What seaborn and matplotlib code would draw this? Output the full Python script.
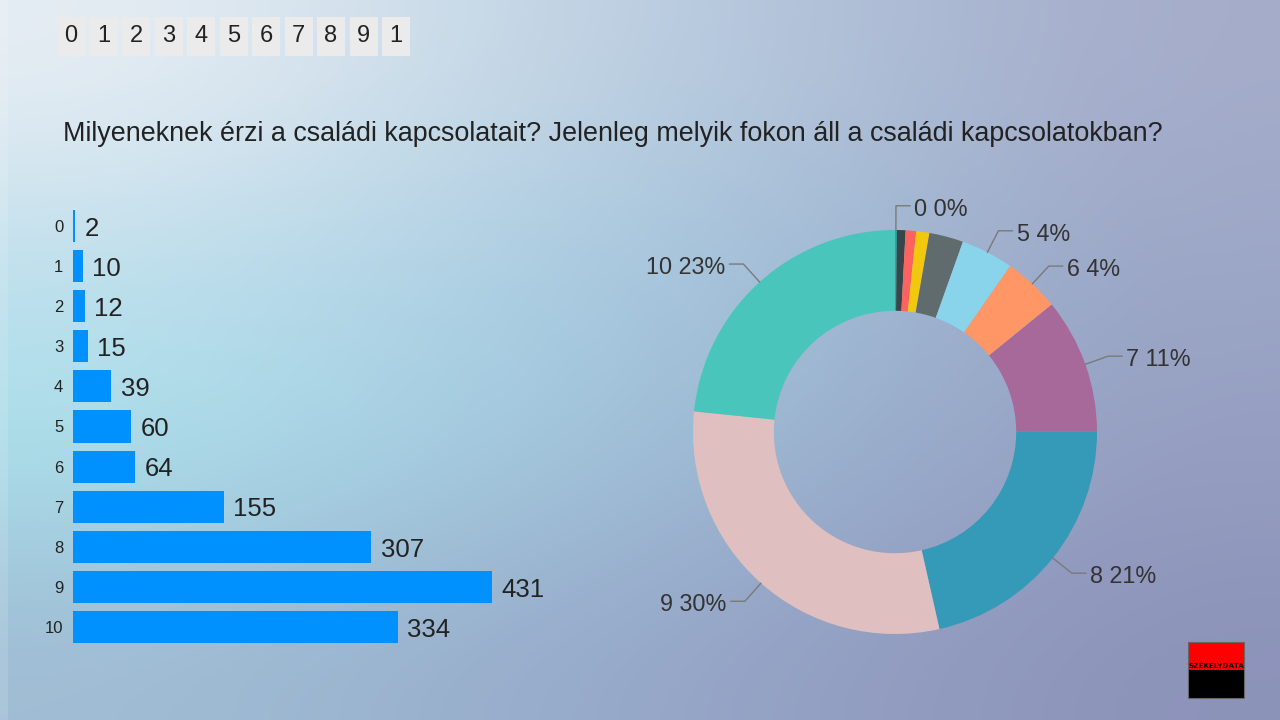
import numpy as np
import matplotlib
matplotlib.use("Agg")
import matplotlib.pyplot as plt
from matplotlib.patches import Rectangle
import seaborn as sns

# data
categories = ["0", "1", "2", "3", "4", "5", "6", "7", "8", "9", "10"]
counts = [2, 10, 12, 15, 39, 60, 64, 155, 307, 431, 334]
scale_labels = ["0", "1", "2", "3", "4", "5", "6", "7", "8", "9", "1"]
slice_colors = ["#01B8AA", "#374649", "#FD625E", "#F2C80F", "#5F6B6D", "#8AD4EB",
                "#FE9666", "#A66999", "#3599B8", "#DFBFBF", "#4AC5BB"]
labeled_slices = ["0", "5", "6", "7", "8", "9", "10"]
title = "Milyeneknek érzi a családi kapcsolatait? Jelenleg melyik fokon áll a családi kapcsolatokban?"

sns.set_theme(style="white")
plt.rcParams["font.family"] = ["Liberation Sans", "DejaVu Sans"]

W, H = 1280, 720
fig = plt.figure(figsize=(W / 100, H / 100), dpi=100)


def px_axes(x, y, w, h):
    return fig.add_axes([x / W, 1 - (y + h) / H, w / W, h / H])


# background gradient (top-left light, cyan on the left, grey-violet on the right)
bg = px_axes(0, 0, W, H)
ctrl = np.array([
    [[232, 238, 244], [200, 218, 232], [178, 196, 218], [165, 172, 202]],
    [[190, 222, 236], [172, 208, 228], [160, 190, 215], [155, 165, 198]],
    [[170, 226, 236], [165, 205, 225], [155, 180, 208], [150, 158, 192]],
    [[160, 188, 212], [152, 174, 204], [148, 160, 195], [140, 146, 185]],
]) / 255
bg.imshow(ctrl, extent=[0, W, H, 0], interpolation="bicubic", aspect="auto")
bg.set_xlim(0, W)
bg.set_ylim(H, 0)
bg.set_axis_off()
bg.add_patch(Rectangle((0, 0), 8, H, fc="white", alpha=0.12, lw=0))

# scale header boxes
for i, lab in enumerate(scale_labels):
    x0 = 57 + i * 32.5
    bg.add_patch(Rectangle((x0, 17), 28, 39, fc="#ebebeb", lw=0))
    bg.text(x0 + 14, 36.5, lab, ha="center", va="center", fontsize=17, color="#222222")

bg.text(63, 134, title, ha="left", va="center", fontsize=19.4, color="#222222")

# logo
bg.add_patch(Rectangle((1188, 642), 56, 28, fc="#ff0000", lw=0))
bg.add_patch(Rectangle((1188, 670), 56, 28, fc="#000000", lw=0))
bg.add_patch(Rectangle((1188, 642), 56, 56, fc="none", ec="#666666", lw=0.8))
bg.text(1216, 666, "SZÉKELYDATA", ha="center", va="center", fontsize=5.2,
        fontweight="bold", color="#111111", family=["DejaVu Sans"])

# bar chart
axb = px_axes(73, 206, 520, 441)
sns.barplot(x=counts, y=categories, order=categories, orient="h", color="#0091ff",
            saturation=1, width=0.8, linewidth=0, ax=axb)
axb.set_xlim(0, 520 / 0.972)
axb.set_ylim(10.5, -0.5)
sns.despine(ax=axb, left=True, bottom=True)
axb.set_xticks([])
axb.set_xlabel("")
axb.set_ylabel("")
axb.tick_params(axis="y", length=0, pad=7, labelsize=12, labelcolor="#222222")
axb.patch.set_alpha(0)
for rect, v in zip(axb.patches, counts):
    axb.annotate(str(v), (rect.get_width(), rect.get_y() + rect.get_height() / 2),
                 xytext=(7, -2), textcoords="offset points", ha="left", va="center",
                 fontsize=18.5, color="#222222")

# donut chart
cx, cy, R = 895, 432, 202
half = 330
axp = px_axes(cx - half, cy - half, 2 * half, 2 * half)
wedges, _ = axp.pie(counts, colors=slice_colors, startangle=90, counterclock=False,
                    radius=1, wedgeprops=dict(width=0.4, linewidth=0))
axp.set_xlim(-half / R, half / R)
axp.set_ylim(-half / R, half / R)
axp.set_aspect("equal")
axp.axis("off")

total = sum(counts)
for w, cat, n in zip(wedges, categories, counts):
    if cat not in labeled_slices:
        continue
    ang = np.deg2rad((w.theta1 + w.theta2) / 2)
    x, y = np.cos(ang), np.sin(ang)
    ex, ey = 1.12 * x, 1.12 * y
    side = 1 if x >= -0.01 else -1
    hx = ex + side * 0.07
    axp.plot([x, ex, hx], [y, ey, ey], color="#7a7a7a", lw=1)
    axp.annotate(f"{cat} {round(100 * n / total)}%", (hx + side * 0.02, ey),
                 xytext=(0, -2.5), textcoords="offset points",
                 ha="left" if side > 0 else "right", va="center", fontsize=16.8, color="#333333")

fig.savefig("out.png", dpi=100)
